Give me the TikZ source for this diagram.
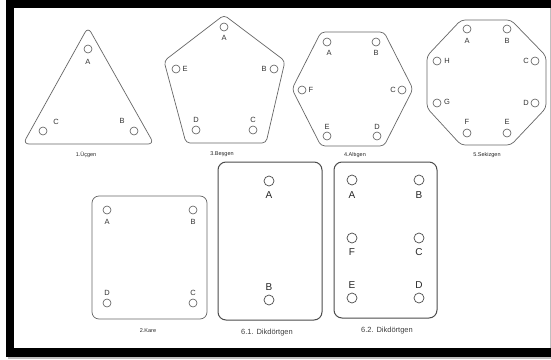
\documentclass[tikz,border=0pt]{standalone}
\usepackage{fontspec}
\setmainfont{Liberation Sans}
\begin{document}
\begin{tikzpicture}[x=1pt,y=-1pt,
  plate/.style={draw=black!60, line width=0.7pt, rounded corners=4pt},
  bigplate/.style={draw=black!70, line width=1pt, rounded corners=8pt},
  hole/.style={circle, draw=black!65, line width=0.6pt, minimum size=8pt, inner sep=0pt},
  bighole/.style={circle, draw=black!70, line width=0.7pt, minimum size=10pt, inner sep=0pt},
  lbl/.style={font=\fontsize{7.5}{7.5}\selectfont, text=black!80, inner sep=0pt},
  blbl/.style={font=\fontsize{10}{10}\selectfont, text=black!85, inner sep=0pt},
  captxt/.style={font=\fontsize{5.5}{5.5}\selectfont, text=black!85, inner sep=0pt},
  bigcaptxt/.style={font=\fontsize{7.5}{7.5}\selectfont, text=black!75, inner sep=0pt}]
\useasboundingbox (0,0) rectangle (551,359);
\fill[white] (0,0) rectangle (551,359);
% frame
\fill[black!25] (8,357) rectangle (551,359);
\fill[black] (6,0) rectangle (551,8);
\fill[black] (6,0) rectangle (14,357);
\fill[black] (6,348) rectangle (551,357);
\fill[black!25] (550,8) rectangle (551,348);

% 1. Triangle
\draw[plate, rounded corners=6pt] (88,27) -- (154,144) -- (23,144) -- cycle;
\node[hole] (t1A) at (88,49) {};
\node[lbl] (t1a) at (88,62) {A};
\node[hole] (t1B) at (134,131) {};
\node[lbl] (t1b) at (122,121) {B};
\node[hole] (t1C) at (43,131) {};
\node[lbl] (t1c) at (56,122) {C};
\node[captxt] (t1cap) at (86,155) {1.Üçgen};

% 3. Pentagon
\draw[plate] (224,15) -- (285,61) -- (266,143) -- (186,143) -- (164,61) -- cycle;
\node[hole] (p3A) at (224,27) {};
\node[lbl] (p3a) at (224,38) {A};
\node[hole] (p3B) at (274,69) {};
\node[lbl] (p3b) at (264,69) {B};
\node[hole] (p3C) at (253,130) {};
\node[lbl] (p3c) at (253,120) {C};
\node[hole] (p3D) at (196,130) {};
\node[lbl] (p3d) at (196,120) {D};
\node[hole] (p3E) at (176,69) {};
\node[lbl] (p3e) at (185,69) {E};
\node[captxt] (p3cap) at (222,154) {3.Beşgen};

% 4. Hexagon
\draw[plate] (321,32) -- (384,32) -- (413,89) -- (384,146) -- (321,146) -- (292,89) -- cycle;
\node[hole] (h4A) at (327,42) {};
\node[lbl] (h4a) at (329,53) {A};
\node[hole] (h4B) at (376,42) {};
\node[lbl] (h4b) at (376,53) {B};
\node[hole] (h4C) at (402,90) {};
\node[lbl] (h4c) at (393,90) {C};
\node[hole] (h4D) at (377,136) {};
\node[lbl] (h4d) at (377,127) {D};
\node[hole] (h4E) at (327,136) {};
\node[lbl] (h4e) at (327,127) {E};
\node[hole] (h4F) at (302,90) {};
\node[lbl] (h4f) at (311,90) {F};
\node[captxt] (h4cap) at (355,155) {4.Altıgen};

% 5. Octagon
\draw[plate] (461,20) -- (511,20) -- (546,56) -- (546,108) -- (511,145) -- (461,145) -- (427,108) -- (427,56) -- cycle;
\node[hole] (o5A) at (467,29) {};
\node[lbl] (o5a) at (467,41) {A};
\node[hole] (o5B) at (507,29) {};
\node[lbl] (o5b) at (507,41) {B};
\node[hole] (o5C) at (535,61) {};
\node[lbl] (o5c) at (526,61) {C};
\node[hole] (o5D) at (535,103) {};
\node[lbl] (o5d) at (526,103) {D};
\node[hole] (o5E) at (507,133) {};
\node[lbl] (o5e) at (507,122) {E};
\node[hole] (o5F) at (467,133) {};
\node[lbl] (o5f) at (467,122) {F};
\node[hole] (o5G) at (437,103) {};
\node[lbl] (o5g) at (447,102) {G};
\node[hole] (o5H) at (437,61) {};
\node[lbl] (o5h) at (447,61) {H};
\node[captxt] (o5cap) at (487,155) {5.Sekizgen};

% 2. Square
\draw[plate, rounded corners=7pt] (92,196) rectangle (207,319);
\node[hole] (k2A) at (107,210) {};
\node[lbl] (k2a) at (107,222) {A};
\node[hole] (k2B) at (193,210) {};
\node[lbl] (k2b) at (193,222) {B};
\node[hole] (k2C) at (193,303) {};
\node[lbl] (k2c) at (193,293) {C};
\node[hole] (k2D) at (107,303) {};
\node[lbl] (k2d) at (107,293) {D};
\node[captxt] (k2cap) at (148,331) {2.Kare};

% 6.1 Rectangle
\draw[bigplate] (218,162) rectangle (322,320);
\node[bighole] (r1A) at (269,181) {};
\node[blbl] (r1a) at (269,195) {A};
\node[blbl] (r1b) at (269,287) {B};
\node[bighole] (r1B) at (269,300) {};
\node[bigcaptxt] (r1cap) at (267,333) {6.1. Dikdörtgen};

% 6.2 Rectangle
\draw[bigplate] (334,162) rectangle (437,318);
\node[bighole] (r2A) at (352,180) {};
\node[blbl] (r2a) at (352,195) {A};
\node[bighole] (r2B) at (419,180) {};
\node[blbl] (r2b) at (419,195) {B};
\node[bighole] (r2F) at (352,238) {};
\node[blbl] (r2f) at (352,252) {F};
\node[bighole] (r2C) at (419,238) {};
\node[blbl] (r2c) at (419,252) {C};
\node[blbl] (r2e) at (352,285) {E};
\node[bighole] (r2E) at (352,298) {};
\node[blbl] (r2d) at (419,285) {D};
\node[bighole] (r2D) at (419,298) {};
\node[bigcaptxt] (r2cap) at (387,331) {6.2. Dikdörtgen};
\end{tikzpicture}
\end{document}
